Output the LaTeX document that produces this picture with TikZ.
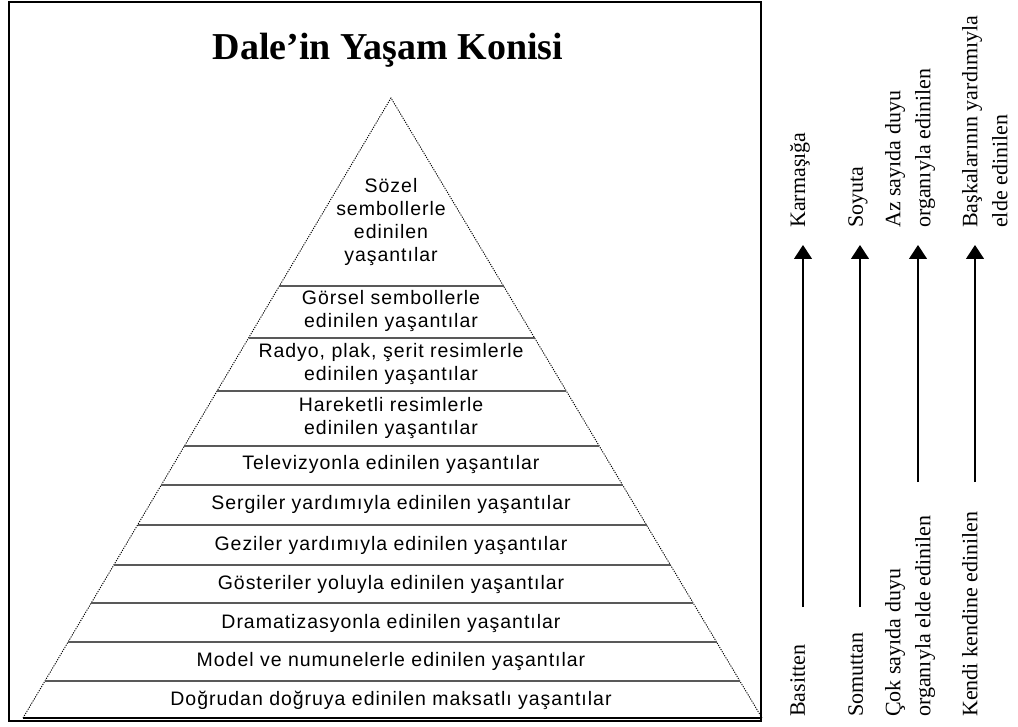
\documentclass[tikz,border=0pt]{standalone}
\usepackage{fontspec}
\setmainfont{Liberation Serif}
\newfontfamily\arialfont[LetterSpace=5]{Liberation Sans}
\usetikzlibrary{arrows.meta, calc}

\begin{document}
\begin{tikzpicture}[x=1pt, y=-1pt,
        stage/.style={
            font=\arialfont\fontsize{19.5}{23}\selectfont,
            align=center,
            inner sep=0pt,
            },
        sidetext/.style={
            font=\fontsize{22}{30}\selectfont,
            rotate=90,
            anchor=north west,
            align=left,
            inner sep=0pt,
            },
        divider/.style={draw=black!65, line width=1.2pt},
        riser/.style={draw, line width=1.2pt, -{Triangle[width=18pt,length=14pt]}}]

    \useasboundingbox (0,0) rectangle (1018,727);
    \draw[line width=1.6pt] (9,2) rectangle (761,721);

    \node[font=\bfseries\fontsize{38}{42}\selectfont] (title) at (388,50) {Dale’in Yaşam Konisi};

    \coordinate (apex) at (391,98);
    \coordinate (bl) at (23,718);
    \coordinate (br) at (762,718);

    \draw[line width=0.9pt, dash pattern=on 1.2pt off 1.2pt] (bl) -- (apex) -- (br);
    \draw[line width=1.2pt] (bl) -- (br);

    \foreach \y in {286,338,391,446,485,525,565,603,642,681} {
        \pgfmathsetmacro\t{(\y-98)/620}
        \draw[divider] ($(apex)!\t!(bl)$) -- ($(apex)!\t!(br)$);
    }

    \node[stage] (sozel) at (391,222) {Sözel\\sembollerle\\edinilen\\yaşantılar};
    \node[stage] (gorsel) at (391,311) {Görsel sembollerle\\edinilen yaşantılar};
    \node[stage] (radyo) at (391,364) {Radyo, plak, şerit resimlerle\\edinilen yaşantılar};
    \node[stage] (hareketli) at (391,418) {Hareketli resimlerle\\edinilen yaşantılar};
    \node[stage] (tv) at (391,465) {Televizyonla edinilen yaşantılar};
    \node[stage] (sergi) at (391,505) {Sergiler yardımıyla edinilen yaşantılar};
    \node[stage] (gezi) at (391,545) {Geziler yardımıyla edinilen yaşantılar};
    \node[stage] (gosteri) at (391,584) {Gösteriler yoluyla edinilen yaşantılar};
    \node[stage] (drama) at (391,623) {Dramatizasyonla edinilen yaşantılar};
    \node[stage] (model) at (391,661) {Model ve numunelerle edinilen yaşantılar};
    \node[stage] (dogrudan) at (391,700) {Doğrudan doğruya edinilen maksatlı yaşantılar};

    % yan oklar
    \coordinate (b1) at (803,607); \coordinate (t1) at (803,245);
    \coordinate (b2) at (860,607); \coordinate (t2) at (860,245);
    \coordinate (b3) at (918,482); \coordinate (t3) at (918,245);
    \coordinate (b4) at (975,482); \coordinate (t4) at (975,245);

    \draw[riser] (b1) -- (t1);
    \draw[riser] (b2) -- (t2);
    \draw[riser] (b3) -- (t3);
    \draw[riser] (b4) -- (t4);

    \node[sidetext] (karmasik) at (790,228) {Karmaşığa};
    \node[sidetext] (soyut) at (848,228) {Soyuta};
    \node[sidetext] (az) at (885,228) {Az sayıda duyu\\organıyla edinilen};
    \node[sidetext] (baskasi) at (962,228) {Başkalarının yardımıyla\\elde edinilen};

    \node[sidetext] (basit) at (790,717) {Basitten};
    \node[sidetext] (somut) at (848,717) {Somuttan};
    \node[sidetext] (cok) at (885,717) {Çok sayıda duyu\\organıyla elde edinilen};
    \node[sidetext] (kendi) at (962,717) {Kendi kendine edinilen};

\end{tikzpicture}
\end{document}
